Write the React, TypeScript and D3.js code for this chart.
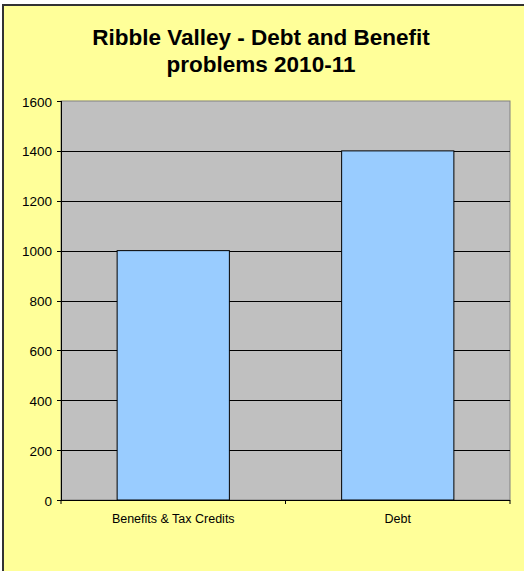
import React from "react";
import * as d3 from "d3";

const categories = ["Benefits & Tax Credits", "Debt"];
const values = [1000, 1400];
const yTicks = [0, 200, 400, 600, 800, 1000, 1200, 1400, 1600];
const titleLines = ["Ribble Valley - Debt and Benefit", "problems 2010-11"];

export default function App() {
  const W = 524, H = 571;
  const left = 61, right = 510, top = 101, bottom = 500;
  const x = d3.scaleBand<string>().domain(categories).range([left, right]).paddingInner(0.5).paddingOuter(0.25);
  const y = d3.scaleLinear().domain([0, 1600]).range([bottom, top]);
  const font = "Arial, 'Liberation Sans', sans-serif";
  const catEdges = [left, ...categories.map((c) => (x(c) as number) + x.bandwidth() + x.step() * 0.25)];
  return (
    <svg width={W} height={H} style={{ position: "absolute", left: 0, top: 0 }}>
      <rect x={0} y={0} width={W} height={H} fill="#FFFF99" />
      <rect x={0} y={0} width={W} height={4} fill="#FFFFFF" />
      <rect x={0} y={0} width={2} height={H} fill="#FFFFFF" />
      <line x1={3} x2={3} y1={4} y2={H} stroke="#333" strokeWidth={2} />
      <line x1={2} x2={W} y1={5} y2={5} stroke="#333" strokeWidth={2} />
      {titleLines.map((t, i) => (
        <text key={i} x={261} y={45 + i * 27} textAnchor="middle" fontFamily={font} fontWeight="bold" fontSize={22.5} fill="#000">
          {t}
        </text>
      ))}
      <rect x={left} y={top} width={right - left} height={bottom - top} fill="#C0C0C0" stroke="#808080" strokeWidth={1} />
      {yTicks.map((t) => (
        <g key={t}>
          {t > 0 && t < 1600 && <line x1={left} x2={right} y1={Math.round(y(t)) + 0.5} y2={Math.round(y(t)) + 0.5} stroke="#000" strokeWidth={1} />}
          <line x1={left - 4} x2={left} y1={Math.round(y(t)) + 0.5} y2={Math.round(y(t)) + 0.5} stroke="#000" />
          <text x={52} y={y(t) + 5.5} textAnchor="end" fontFamily={font} fontSize={13.5} fill="#000">
            {t}
          </text>
        </g>
      ))}
      {categories.map((c, i) => (
        <rect key={c} x={x(c)} y={y(values[i])} width={x.bandwidth()} height={bottom - y(values[i])} fill="#99CCFF" stroke="#000" strokeWidth={1} />
      ))}
      <line x1={left + 0.5} x2={left + 0.5} y1={top} y2={bottom} stroke="#000" />
      <line x1={left} x2={right} y1={bottom + 0.5} y2={bottom + 0.5} stroke="#000" />
      {catEdges.map((e, i) => (
        <line key={i} x1={e} x2={e} y1={bottom} y2={bottom + 4} stroke="#000" />
      ))}
      {categories.map((c) => (
        <text key={c} x={(x(c) as number) + x.bandwidth() / 2} y={523} textAnchor="middle" fontFamily={font} fontSize={12.5} fill="#000">
          {c}
        </text>
      ))}
    </svg>
  );
}
